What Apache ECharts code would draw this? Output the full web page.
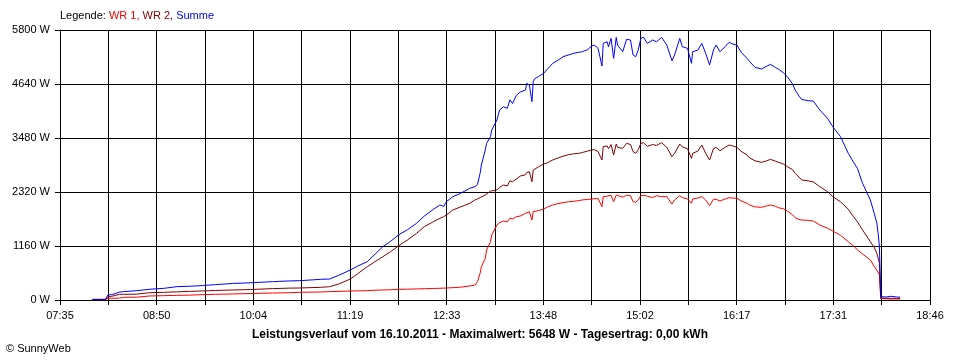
<!DOCTYPE html>
<html>
<head>
<meta charset="utf-8">
<script src="https://cdn.jsdelivr.net/npm/echarts@6/dist/echarts.min.js"></script>
<style>
html,body{margin:0;padding:0;background:#fff;}
#c{width:960px;height:360px;}
</style>
</head>
<body>
<div id="c"></div>
<script>
// ---- data ----
const times = ["08:00","08:10","08:12","08:15","08:21","08:24","08:34","08:44","08:55","09:05","09:15","09:25","09:35","09:48","10:02","10:19","10:32","10:40","10:56","11:03","11:10","11:19","11:25","11:32","11:38","11:44","11:50","11:56","12:03","12:10","12:16","12:23","12:28","12:31","12:33","12:38","12:44","12:51","12:55","12:57","12:59","13:00","13:03","13:04","13:07","13:08","13:12","13:14","13:17","13:20","13:22","13:24","13:27","13:30","13:34","13:35","13:37","13:39","13:40","13:41","13:44","13:48","13:51","13:55","13:59","14:03","14:07","14:11","14:15","14:18","14:22","14:25","14:27","14:30","14:33","14:34","14:37","14:38","14:40","14:42","14:44","14:45","14:49","14:52","14:55","14:57","14:59","15:01","15:03","15:05","15:08","15:12","15:15","15:19","15:23","15:27","15:29","15:33","15:35","15:39","15:42","15:43","15:47","15:50","15:53","15:56","15:59","16:01","16:04","16:08","16:11","16:14","16:17","16:21","16:25","16:27","16:31","16:36","16:40","16:43","16:47","16:49","16:53","16:56","17:00","17:02","17:05","17:07","17:12","17:16","17:21","17:27","17:31","17:37","17:43","17:47","17:50","17:54","18:00","18:03","18:05","18:06","18:07","18:08","18:12","18:16","18:20","18:23"];
const wr1 = [5,5,40,36,40,57,60,86,93,100,105,115,122,129,140,150,157,165,172,180,185,193,196,200,210,215,220,229,232,238,242,248,252,255,258,265,275,301,320,394,573,716,895,1074,1250,1397,1611,1661,1697,1680,1755,1740,1790,1804,1860,1880,1897,1718,1900,1910,1920,1950,2000,2040,2070,2090,2110,2120,2134,2150,2160,2170,2175,2180,2005,2220,2230,2220,2250,2112,2255,2240,2210,2250,2240,2112,2100,2150,2241,2250,2230,2200,2240,2220,2220,2062,2150,2240,2200,2170,2077,2170,2190,2220,2148,2026,2163,2163,2127,2170,2198,2190,2184,2120,2077,2040,2000,1991,2020,2041,2010,1983,1960,1912,1830,1770,1730,1718,1710,1697,1611,1540,1482,1390,1250,1160,1080,988,860,720,640,609,540,30,25,22,22,20];
const wr2 = [10,10,72,80,122,122,125,157,165,175,185,195,205,215,225,245,255,258,272,286,344,451,573,716,824,931,1038,1160,1289,1432,1575,1683,1755,1790,1826,1933,2000,2077,2148,2170,2200,2230,2255,2290,2340,2363,2363,2420,2470,2450,2560,2540,2600,2663,2690,2740,2756,2542,2790,2820,2860,2921,2950,3007,3050,3090,3120,3140,3150,3170,3200,3222,3230,3186,3007,3293,3310,3250,3340,3114,3350,3280,3258,3365,3340,3186,3150,3230,3365,3380,3300,3340,3320,3380,3280,3078,3150,3350,3290,3250,3043,3150,3200,3329,3150,3007,3250,3279,3207,3280,3329,3310,3279,3180,3114,3050,2990,2957,2990,3021,2980,2960,2920,2864,2800,2721,2640,2578,2560,2535,2435,2327,2220,2110,1950,1790,1680,1504,1253,1130,1003,900,788,40,38,36,36,35];
const summe = [15,15,110,115,170,180,200,230,250,286,295,310,330,355,370,394,410,415,444,451,530,645,735,824,985,1146,1260,1397,1510,1647,1804,1948,2041,2010,2112,2220,2292,2399,2435,2480,2721,2900,3225,3365,3508,3651,3867,4080,4152,4117,4300,4220,4400,4467,4510,4654,4618,4260,4690,4750,4800,4869,4960,5084,5150,5226,5262,5298,5320,5334,5380,5456,5477,5406,5026,5513,5548,5441,5620,5191,5642,5477,5334,5599,5585,5262,5226,5370,5620,5648,5513,5585,5548,5642,5477,5140,5262,5620,5441,5406,5084,5334,5370,5513,5298,5047,5370,5477,5334,5441,5534,5498,5477,5298,5190,5119,4998,4962,5020,5062,4990,4962,4880,4797,4640,4510,4380,4310,4280,4274,4081,3902,3722,3508,3150,2960,2828,2506,2148,1860,1650,1432,1146,72,65,80,65,60];

const axisStart = "07:35";
const axisEnd = "18:46";
const xSteps = 18;          // grid divisions on the time axis
const yMax = 5800;
const yStep = 1160;

const legendText = ["Legende: ", "WR 1, ", "WR 2, ", "Summe"];
const titleText = "Leistungsverlauf vom 16.10.2011 - Maximalwert: 5648 W - Tagesertrag: 0,00 kWh";
const copyright = "© SunnyWeb";

// ---- helpers ----
function toMin(t){const p=t.split(":");return +p[0]*60 + +p[1];}
const m0 = toMin(axisStart), m1 = toMin(axisEnd);
const span = m1 - m0;
function toUnit(t){return (toMin(t)-m0)*xSteps/span;}
function fmt(u){
  const m = Math.round(m0 + u*span/xSteps);
  const h = Math.floor(m/60), mm = m%60;
  return (h<10?"0":"")+h+":"+(mm<10?"0":"")+mm;
}
function build(vals){return times.map((t,i)=>[toUnit(t), vals[i]]);}

const FONT = "Liberation Sans";
const chart = echarts.init(document.getElementById('c'), null, {renderer:'canvas'});
chart.setOption({
  animation:false,
  backgroundColor:'#ffffff',
  grid:{left:60,right:30,top:30,bottom:60,containLabel:false},
  xAxis:{
    type:'value', min:0, max:xSteps, interval:1,
    axisLine:{show:true,onZero:false,lineStyle:{color:'#000',width:1}},
    axisTick:{show:true,length:5,inside:false,lineStyle:{color:'#000'}},
    splitLine:{show:true,lineStyle:{color:'#000',width:1}},
    axisLabel:{
      margin:10, color:'#000', fontFamily:FONT, fontSize:11,
      showMinLabel:true, showMaxLabel:true,
      formatter:function(v){const k=Math.round(v);return (k%2===0)?fmt(v):'';}
    }
  },
  yAxis:{
    type:'value', min:0, max:yMax, interval:yStep,
    axisLine:{show:true,lineStyle:{color:'#000',width:1}},
    axisTick:{show:true,length:5,lineStyle:{color:'#000'}},
    splitLine:{show:true,lineStyle:{color:'#000',width:1}},
    axisLabel:{margin:10,color:'#000',fontFamily:FONT,fontSize:11,formatter:function(v){return v+' W';}}
  },
  series:[
    {name:'WR 1',type:'line',data:build(wr1),showSymbol:false,symbol:'none',lineStyle:{color:'#ff0000',width:1},itemStyle:{color:'#ff0000'},z:2},
    {name:'WR 2',type:'line',data:build(wr2),showSymbol:false,symbol:'none',lineStyle:{color:'#800000',width:1},itemStyle:{color:'#800000'},z:3},
    {name:'Summe',type:'line',data:build(summe),showSymbol:false,symbol:'none',lineStyle:{color:'#0000ff',width:1},itemStyle:{color:'#0000ff'},z:4}
  ],
  graphic:[
    {type:'text',left:60,top:10,style:{
      text:'{a|'+legendText[0]+'}{b|'+legendText[1]+'}{c|'+legendText[2]+'}{d|'+legendText[3]+'}',
      rich:{
        a:{fill:'#000',fontFamily:FONT,fontSize:11},
        b:{fill:'#ff0000',fontFamily:FONT,fontSize:11},
        c:{fill:'#800000',fontFamily:FONT,fontSize:11},
        d:{fill:'#0000ff',fontFamily:FONT,fontSize:11}
      }}},
    {type:'text',left:'center',top:329,style:{text:titleText,fill:'#000',fontFamily:FONT,fontSize:12,fontWeight:'bold'}},
    {type:'text',left:6,top:343,style:{text:copyright,fill:'#000',fontFamily:FONT,fontSize:11}}
  ]
});
</script>
</body>
</html>
